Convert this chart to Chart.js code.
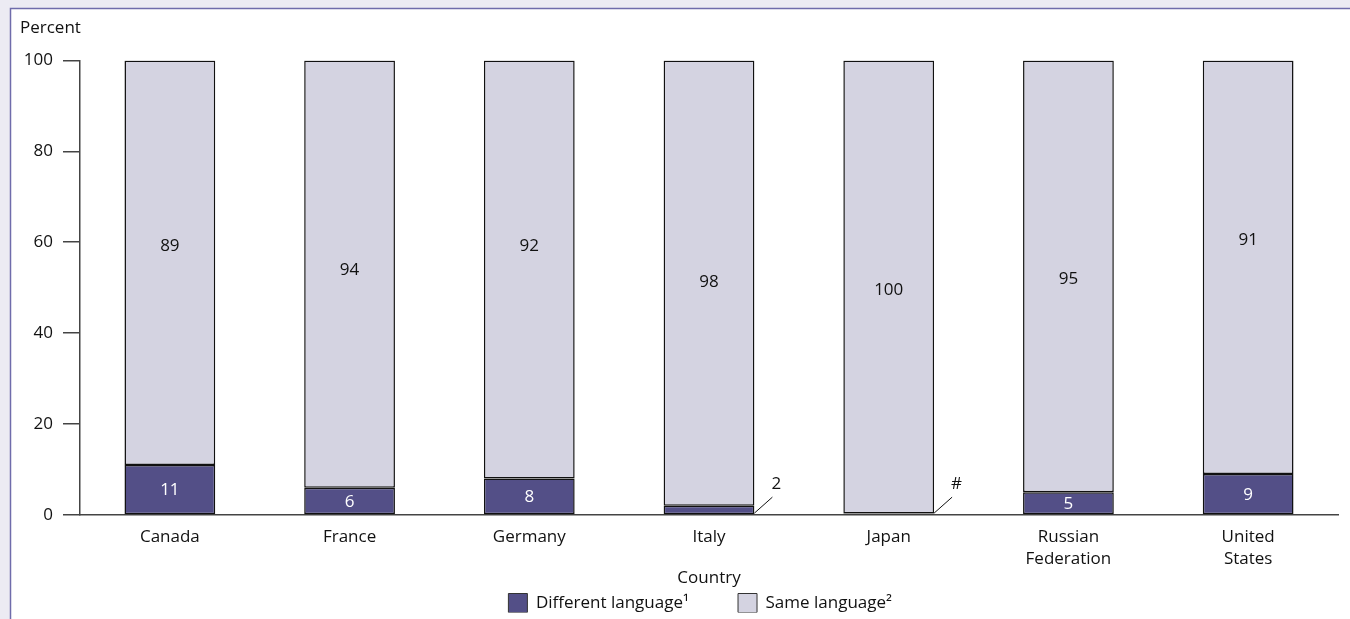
<!DOCTYPE html>
<html>
<head>
<meta charset="utf-8">
<script src="https://cdn.jsdelivr.net/npm/chart.js@4.4.0/dist/chart.umd.min.js"></script>
<style>
  html, body { margin: 0; padding: 0; background: #ECEBF3; }
  #wrap { position: absolute; left: 0; top: 0; width: 1350px; height: 619px; }
</style>
</head>
<body>
<div id="wrap"><canvas id="c" width="1350" height="619"></canvas></div>
<script>
const categories = ['Canada', 'France', 'Germany', 'Italy', 'Japan', ['Russian', 'Federation'], ['United', 'States']];
const differentLanguage = [11, 6, 8, 2, 0.3, 5, 9];
const sameLanguage = [89, 94, 92, 98, 99.7, 95, 91];
const differentLabels = ['11', '6', '8', '2', '#', '5', '9'];
const sameLabels = ['89', '94', '92', '98', '100', '95', '91'];
const sameLabelAnchor = [59.2, 53.9, 59.2, 51.2, 49.4, 51.9, 60.5];
const yTicks = [0, 20, 40, 60, 80, 100];
const seriesNames = ['Different language\u00B9', 'Same language\u00B2'];

const FONT = "'Open Sans', 'Noto Sans', sans-serif";
const DARK = '#534F87';
const LIGHT = '#D4D3E1';

const panelPlugin = {
  id: 'panel',
  beforeDraw(chart) {
    const ctx = chart.ctx;
    ctx.save();
    ctx.fillStyle = '#ECEBF3';
    ctx.fillRect(0, 0, chart.width, chart.height);
    ctx.fillStyle = '#FFFFFF';
    ctx.fillRect(10.5, 8.5, chart.width, chart.height);
    ctx.strokeStyle = '#6F6CAB';
    ctx.lineWidth = 1.5;
    ctx.strokeRect(10.5, 8.5, chart.width + 10, chart.height + 10);
    ctx.restore();
  }
};

const labelPlugin = {
  id: 'barLabels',
  afterDatasetsDraw(chart) {
    const ctx = chart.ctx;
    const yScale = chart.scales.y;
    ctx.save();
    ctx.font = '17px ' + FONT;
    ctx.textAlign = 'center';
    ctx.textBaseline = 'middle';
    const m0 = chart.getDatasetMeta(0);
    m0.data.forEach((bar, i) => {
      const v = differentLanguage[i];
      if (v >= 4) {
        ctx.fillStyle = '#FFFFFF';
        ctx.fillText(differentLabels[i], bar.x, (bar.y + bar.base) / 2 + 1);
      } else {
        const x0 = bar.x + bar.width / 2;
        const y0 = bar.base - 1;
        ctx.strokeStyle = '#111';
        ctx.lineWidth = 1;
        ctx.beginPath();
        ctx.moveTo(x0, y0);
        ctx.lineTo(x0 + 18, y0 - 16);
        ctx.stroke();
        ctx.fillStyle = '#111';
        ctx.textAlign = 'left';
        ctx.fillText(differentLabels[i], x0 + 17, y0 - 29);
        ctx.textAlign = 'center';
      }
    });
    const m1 = chart.getDatasetMeta(1);
    m1.data.forEach((bar, i) => {
      ctx.fillStyle = '#111';
      ctx.fillText(sameLabels[i], bar.x, yScale.getPixelForValue(sameLabelAnchor[i]));
    });
    ctx.restore();
  }
};

Chart.defaults.font.family = FONT;
Chart.defaults.font.size = 17;
Chart.defaults.color = '#111';

const legendGaps = ['          ', '    '];

new Chart(document.getElementById('c'), {
  type: 'bar',
  data: {
    labels: categories,
    datasets: [
      {
        label: seriesNames[0],
        data: differentLanguage,
        backgroundColor: DARK,
        borderColor: '#111',
        borderWidth: 1.5,
        borderSkipped: false,
        categoryPercentage: 1,
        barPercentage: 0.505
      },
      {
        label: seriesNames[1],
        data: sameLanguage,
        backgroundColor: LIGHT,
        borderColor: '#111',
        borderWidth: 1.5,
        borderSkipped: false,
        categoryPercentage: 1,
        barPercentage: 0.505
      }
    ]
  },
  options: {
    responsive: false,
    animation: false,
    devicePixelRatio: 1,
    layout: { padding: { left: 20, top: 8, right: 12, bottom: 6.5 } },
    plugins: {
      tooltip: { enabled: false },
      title: {
        display: true,
        text: 'Percent',
        align: 'start',
        color: '#111',
        font: { size: 17, weight: 'normal', family: FONT, lineHeight: 1.2 },
        padding: { top: 10, bottom: 22 }
      },
      legend: {
        position: 'bottom',
        fullSize: false,
        maxHeight: 24,
        labels: {
          boxWidth: 19,
          boxHeight: 19,
          padding: 5,
          color: '#111',
          font: { size: 17, family: FONT },
          generateLabels(chart) {
            return chart.data.datasets.map((ds, i) => ({
              text: ds.label + legendGaps[i],
              fillStyle: ds.backgroundColor,
              strokeStyle: '#333',
              lineWidth: 1,
              datasetIndex: i,
              hidden: false,
              fontColor: '#111'
            }));
          }
        }
      }
    },
    scales: {
      x: {
        stacked: true,
        grid: { display: false, drawTicks: false },
        border: { display: true, color: '#444', width: 1.5 },
        ticks: { padding: 11, color: '#111', font: { size: 17, lineHeight: 1.3 }, maxRotation: 0, autoSkip: false },
        title: { display: true, text: 'Country', color: '#111', font: { size: 17 }, padding: { top: -13.3, bottom: 0.3 } }
      },
      y: {
        stacked: true,
        min: 0,
        max: 100,
        afterBuildTicks(scale) { scale.ticks = yTicks.map(v => ({ value: v })); },
        afterFit(scale) { scale.width = 60; },
        grid: { display: true, drawOnChartArea: false, drawTicks: true, tickLength: 17, color: '#444', lineWidth: 1.5 },
        border: { display: true, color: '#444', width: 1.5 },
        ticks: { padding: 10, color: '#111', font: { size: 17 } }
      }
    }
  },
  plugins: [panelPlugin, labelPlugin]
});
</script>
</body>
</html>
